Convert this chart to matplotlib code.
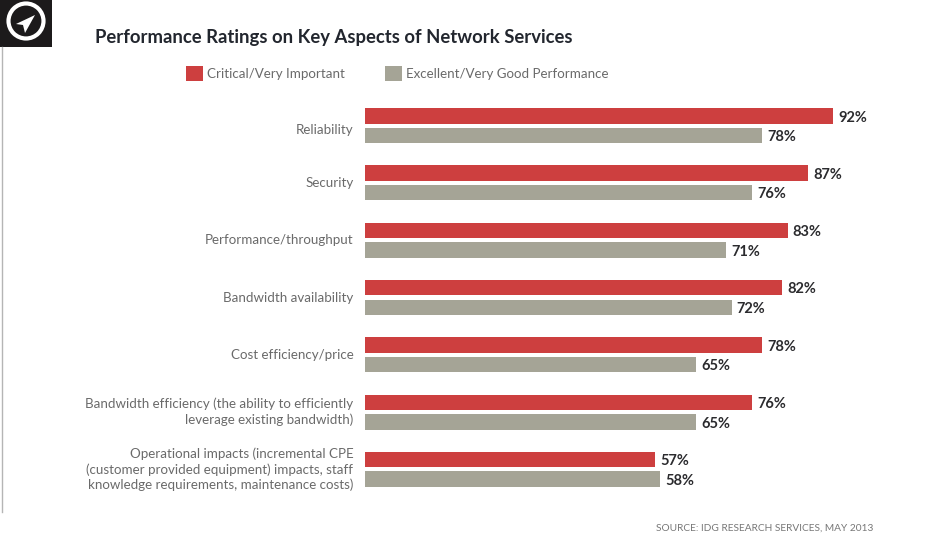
import numpy as np
import matplotlib
matplotlib.use('Agg')
import matplotlib.pyplot as plt
from matplotlib.patches import Rectangle, Circle, Polygon

categories = ['Reliability', 'Security', 'Performance/throughput', 'Bandwidth availability',
              'Cost efficiency/price',
              'Bandwidth efficiency (the ability to efficiently\nleverage existing bandwidth)',
              'Operational impacts (incremental CPE\n(customer provided equipment) impacts, staff\nknowledge requirements, maintenance costs)']
critical = [92, 87, 83, 82, 78, 76, 57]
excellent = [78, 76, 71, 72, 65, 65, 58]
series_names = ['Critical/Very Important', 'Excellent/Very Good Performance']

W, H = 926, 545
RED = '#cd3f3f'
GREY = '#a5a496'
plt.rcParams['font.family'] = ['Lato', 'DejaVu Sans']

fig = plt.figure(figsize=(W / 100, H / 100), dpi=100)

# overlay in pixel coordinates for logo, legend, title
bg = fig.add_axes([0, 0, 1, 1])
bg.set_xlim(0, W)
bg.set_ylim(H, 0)
bg.axis('off')

# main bars
ax = fig.add_axes([365 / W, 1 - 498 / H, 561 / W, 401 / H])
y = np.arange(len(categories))
ax.barh(y - 0.17, critical, height=0.27, color=RED)
ax.barh(y + 0.17, excellent, height=0.27, color=GREY)
ax.set_xlim(0, 110.2)
ax.set_ylim(6.5, -0.5)
ax.axis('off')

for i in range(len(categories)):
    ax.text(critical[i] + 1, y[i] - 0.14, '%d%%' % critical[i], va='center', ha='left',
            fontsize=10.5, fontweight='bold', color='#2b2b2e')
    ax.text(excellent[i] + 1, y[i] + 0.2, '%d%%' % excellent[i], va='center', ha='left',
            fontsize=10.5, fontweight='bold', color='#2b2b2e')
    # first label sits a bit lower in the original
    shift = 0.07 if i == 0 else 0
    ax.text(-2.3, y[i] + shift, categories[i], va='center', ha='right', fontsize=9.6,
            color='#6a6a6a', linespacing=1.3)

# logo
bg.add_patch(Rectangle((0, 0), 52, 47, color='#1c1a1b', lw=0))
bg.add_patch(Circle((26, 21), 17.5, fc='none', ec='white', lw=3))
bg.add_patch(Polygon([[35, 15], [16, 24], [23, 25], [25, 33]], color='white', lw=0))
bg.plot([1.5, 1.5], [47, 512], color='#b5b5b5', lw=1)

bg.text(95, 38, 'Performance Ratings on Key Aspects of Network Services', fontsize=13.35,
        fontweight='bold', color='#22262e', va='center', ha='left')

bg.add_patch(Rectangle((186, 66), 17, 15, color=RED, lw=0))
bg.add_patch(Rectangle((385, 66), 17, 15, color=GREY, lw=0))
bg.text(207, 74, series_names[0], fontsize=9.6, color='#6a6a6a', va='center', ha='left')
bg.text(406, 74, series_names[1], fontsize=9.6, color='#6a6a6a', va='center', ha='left')

bg.text(656, 528, 'SOURCE: IDG RESEARCH SERVICES, MAY 2013', fontsize=7.3, color='#777777',
        va='center', ha='left')

fig.savefig('out.png', dpi=100)
